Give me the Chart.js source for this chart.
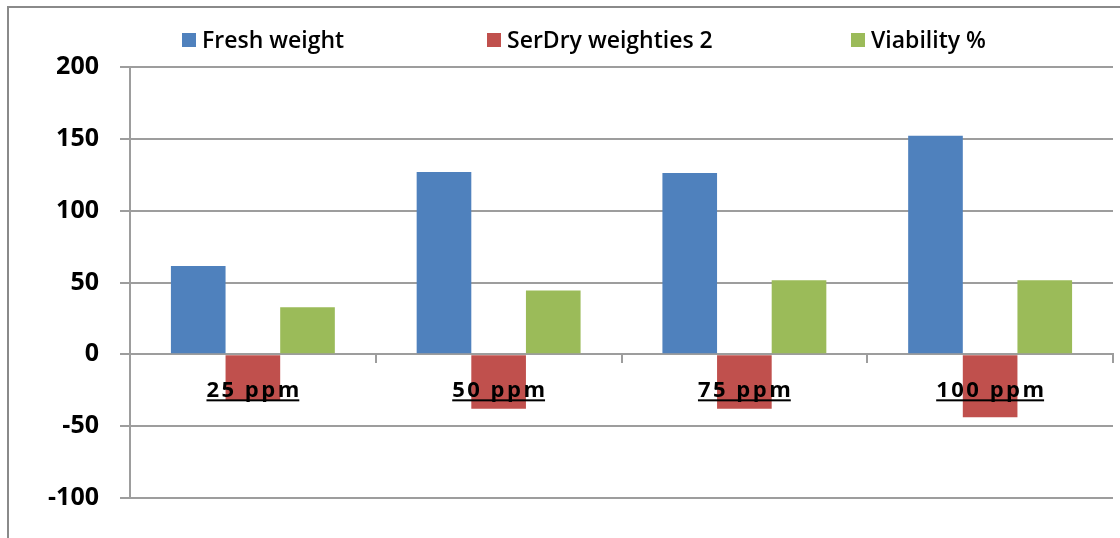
<!DOCTYPE html>
<html>
<head>
<meta charset="utf-8">
<script src="https://cdn.jsdelivr.net/npm/chart.js@4"></script>
<style>
  html, body { margin: 0; padding: 0; background: #fff; }
  #wrap { width: 1120px; height: 538px; }
</style>
</head>
<body>
<div id="wrap"><canvas id="chart" width="1120" height="538"></canvas></div>
<script>
const categories = ["25 ppm", "50 ppm", "75 ppm", "100 ppm"];
const seriesNames = ["Fresh weight", "SerDry weighties 2", "Viability %"];
const freshWeight = [61.5, 127, 126.3, 152.2];
const dryWeight = [-31.8, -37.8, -37.8, -43.8];
const viability = [32.7, 44.5, 51.5, 51.5];
const yTicks = [-100, -50, 0, 50, 100, 150, 200];

const colors = ["#4f81bd", "#c0504d", "#9bbb59"];
const gridGray = "#9d9d9d";
const legendX = [182, 487, 851];

const ctx = document.getElementById("chart");

// outer frame (left + top edge of the excel chart box)
const framePlugin = {
  id: "frame",
  beforeDraw(chart) {
    const c = chart.ctx;
    c.save();
    c.fillStyle = "#fff";
    c.fillRect(0, 0, chart.width, chart.height);
    c.strokeStyle = "#8a8a8a";
    c.lineWidth = 2;
    c.beginPath();
    c.moveTo(8, chart.height);
    c.lineTo(8, 7);
    c.lineTo(chart.width, 7);
    c.stroke();
    c.restore();
  },
};

// legend with fixed slots, like the original
const legendPlugin = {
  id: "slotLegend",
  afterDraw(chart) {
    const c = chart.ctx;
    c.save();
    c.font = "600 23px 'Open Sans'";
    c.textBaseline = "alphabetic";
    chart.data.datasets.forEach((ds, i) => {
      const x = legendX[i];
      c.fillStyle = ds.backgroundColor;
      c.fillRect(x, 33, 14, 14);
      c.fillStyle = "#000";
      c.fillText(ds.label, x + 20, 48);
    });
    c.restore();
  },
};

// category labels sit on the zero line, bold, spaced and underlined
const catLabelPlugin = {
  id: "catLabels",
  afterDatasetsDraw(chart) {
    const c = chart.ctx;
    const xs = chart.scales.x;
    const ys = chart.scales.y;
    const base = ys.getPixelForValue(0) + 43;
    const spacing = 2.5;
    c.save();
    c.font = "bold 22px 'Open Sans'";
    c.letterSpacing = spacing + "px";
    c.fillStyle = "#000";
    c.textAlign = "left";
    c.textBaseline = "alphabetic";
    categories.forEach((lab, i) => {
      const cx = xs.getPixelForValue(i);
      const w = c.measureText(lab).width - spacing;
      const x0 = cx - w / 2;
      c.fillText(lab, x0, base);
      c.fillRect(x0, base + 2, w, 2);
    });
    c.restore();
  },
};

new Chart(ctx, {
  type: "bar",
  data: {
    labels: categories,
    datasets: [
      { label: seriesNames[0], data: freshWeight, backgroundColor: colors[0] },
      { label: seriesNames[1], data: dryWeight, backgroundColor: colors[1] },
      { label: seriesNames[2], data: viability, backgroundColor: colors[2] },
    ],
  },
  options: {
    responsive: false,
    animation: false,
    devicePixelRatio: 1,
    categoryPercentage: 0.667,
    barPercentage: 1,
    layout: {
      padding: { left: 45, right: 7, top: 67, bottom: 40 },
    },
    scales: {
      x: {
        position: { y: 0 },
        offset: true,
        ticks: { display: false },
        grid: {
          offset: true,
          drawOnChartArea: false,
          drawTicks: true,
          tickLength: 8,
          color: gridGray,
          lineWidth: 2,
        },
        border: { display: true, color: gridGray, width: 2 },
      },
      y: {
        min: -100,
        max: 200,
        afterBuildTicks: (s) => {
          s.ticks = yTicks.map((v) => ({ value: v }));
        },
        afterFit: (s) => {
          s.width = 85;
        },
        ticks: {
          padding: 21,
          color: "#000",
          font: { family: "'Open Sans'", weight: "bold", size: 25 },
        },
        grid: {
          color: gridGray,
          lineWidth: 2,
          tickLength: 10,
        },
        border: { display: true, color: gridGray, width: 2 },
      },
    },
    plugins: {
      legend: { display: false },
      tooltip: { enabled: false },
    },
  },
  plugins: [framePlugin, legendPlugin, catLabelPlugin],
});
</script>
</body>
</html>
